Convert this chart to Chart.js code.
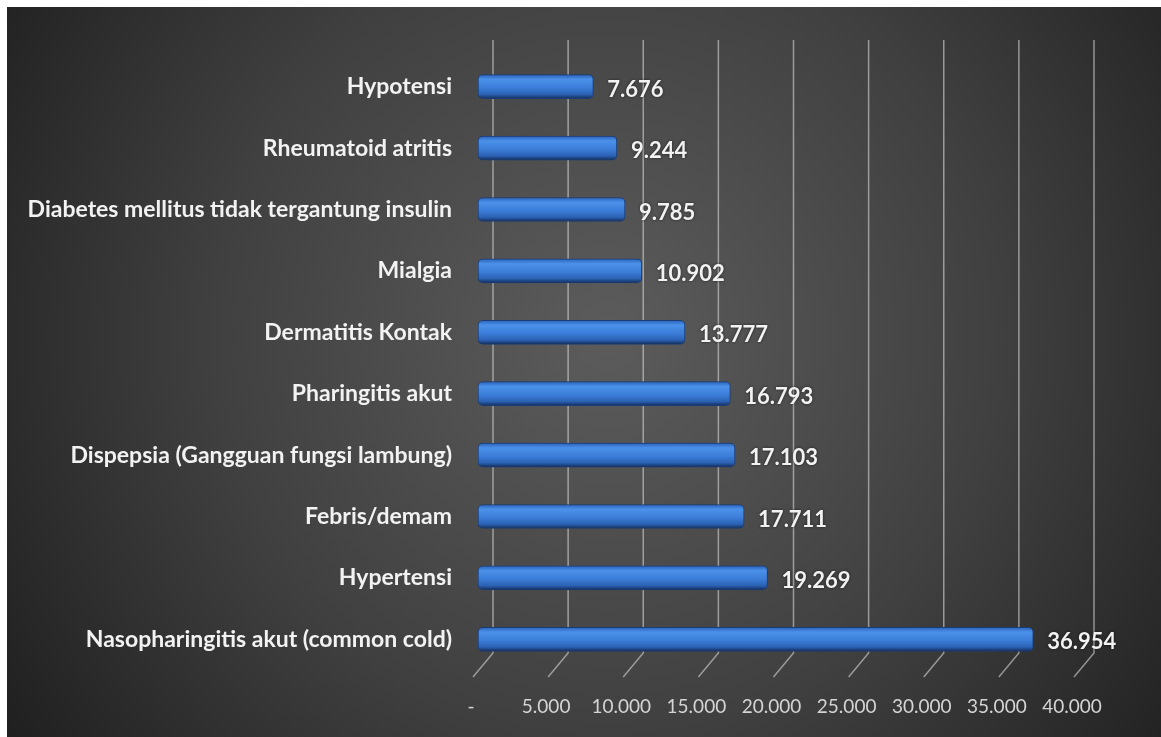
<!DOCTYPE html>
<html>
<head>
<meta charset="utf-8">
<script src="https://cdn.jsdelivr.net/npm/chart.js@4"></script>
<style>
  body { margin: 0; background: #fff; }
  #canvasContainer { position: absolute; left: 7px; top: 7px; width: 1154px; height: 730px; }
</style>
</head>
<body>
<div id="canvasContainer"><canvas id="myChart"></canvas></div>
<script>
const penyakit = [
  "Hypotensi",
  "Rheumatoid atritis",
  "Diabetes mellitus tidak tergantung insulin",
  "Mialgia",
  "Dermatitis Kontak",
  "Pharingitis akut",
  "Dispepsia (Gangguan fungsi lambung)",
  "Febris/demam",
  "Hypertensi",
  "Nasopharingitis akut (common cold)",
];
const jumlahKasus = [7676, 9244, 9785, 10902, 13777, 16793, 17103, 17711, 19269, 36954];
const tickValues = [0, 5000, 10000, 15000, 20000, 25000, 30000, 35000, 40000];

function formatAngka(n) {
  if (n === 0) return "-";
  return String(n).replace(/\B(?=(\d{3})+(?!\d))/g, ".");
}

// dark radial background
const backgroundPlugin = {
  id: "background",
  beforeDraw(chart) {
    const c = chart.ctx;
    const w = chart.width, h = chart.height;
    const g = c.createRadialGradient(w * 0.52, h * 0.45, 0, w * 0.52, h * 0.45, w * 0.62);
    g.addColorStop(0, "#5c5c5c");
    g.addColorStop(0.55, "#404040");
    g.addColorStop(1, "#202020");
    c.save();
    c.fillStyle = g;
    c.fillRect(0, 0, w, h);
    c.restore();
  },
};

// back-wall grid lines with the slanted floor part
const gridPlugin = {
  id: "grid3d",
  beforeDatasetsDraw(chart) {
    const c = chart.ctx;
    const x = chart.scales.x;
    const { top, bottom } = chart.chartArea;
    c.save();
    c.strokeStyle = "rgba(215,215,215,0.6)";
    c.lineWidth = 1.5;
    tickValues.forEach((v) => {
      const px = x.getPixelForValue(v) + 15;
      c.beginPath();
      c.moveTo(px, top - 16);
      c.lineTo(px, bottom - 17);
      c.lineTo(px - 20, bottom + 7);
      c.stroke();
    });
    c.restore();
  },
};

// value labels after each bar
const valueLabelPlugin = {
  id: "valueLabels",
  afterDatasetsDraw(chart) {
    const c = chart.ctx;
    const meta = chart.getDatasetMeta(0);
    c.save();
    c.font = "bold 22px Lato";
    c.fillStyle = "#f2f2f2";
    c.textAlign = "left";
    c.textBaseline = "middle";
    c.shadowColor = "rgba(0,0,0,0.6)";
    c.shadowBlur = 3;
    meta.data.forEach((bar, i) => {
      c.fillText(formatAngka(jumlahKasus[i]), bar.x + 14, bar.y + 3);
    });
    c.restore();
  },
};

function barGradient(context) {
  const chart = context.chart;
  if (!chart.chartArea) return "#3a7bd6";
  const y = chart.scales.y.getPixelForValue(context.dataIndex);
  const g = chart.ctx.createLinearGradient(0, y - 12, 0, y + 12);
  g.addColorStop(0, "#2a62b8");
  g.addColorStop(0.2, "#4b91ea");
  g.addColorStop(0.55, "#3b7dd8");
  g.addColorStop(0.82, "#2b62b4");
  g.addColorStop(1, "#142c5a");
  return g;
}

const ctx = document.getElementById("myChart");
new Chart(ctx, {
  type: "bar",
  data: {
    labels: penyakit,
    datasets: [
      {
        data: jumlahKasus,
        backgroundColor: barGradient,
        borderColor: "#1b3c75",
        borderWidth: 1,
        borderRadius: 5,
        borderSkipped: false,
        barThickness: 24,
      },
    ],
  },
  options: {
    indexAxis: "y",
    responsive: true,
    maintainAspectRatio: false,
    animation: false,
    layout: { padding: { top: 49, right: 82, bottom: 0, left: 0 } },
    plugins: {
      legend: { display: false },
      tooltip: { enabled: false },
    },
    scales: {
      x: {
        min: 0,
        max: 40000,
        afterFit: (scale) => { scale.height = 67; },
        afterBuildTicks: (scale) => {
          scale.ticks = tickValues.map((v) => ({ value: v }));
        },
        grid: { display: false, drawTicks: false },
        border: { display: false },
        ticks: {
          padding: 25,
          labelOffset: -7,
          color: "#d4d4d4",
          font: { family: "Lato", size: 19 },
          callback: (value) => formatAngka(value),
        },
      },
      y: {
        afterFit: (scale) => { scale.width = 471; },
        grid: { display: false, drawTicks: false },
        border: { display: false },
        ticks: {
          padding: 26,
          color: "#f2f2f2",
          font: { family: "Lato", size: 23, weight: "bold" },
        },
      },
    },
  },
  plugins: [backgroundPlugin, gridPlugin, valueLabelPlugin],
});
</script>
</body>
</html>
